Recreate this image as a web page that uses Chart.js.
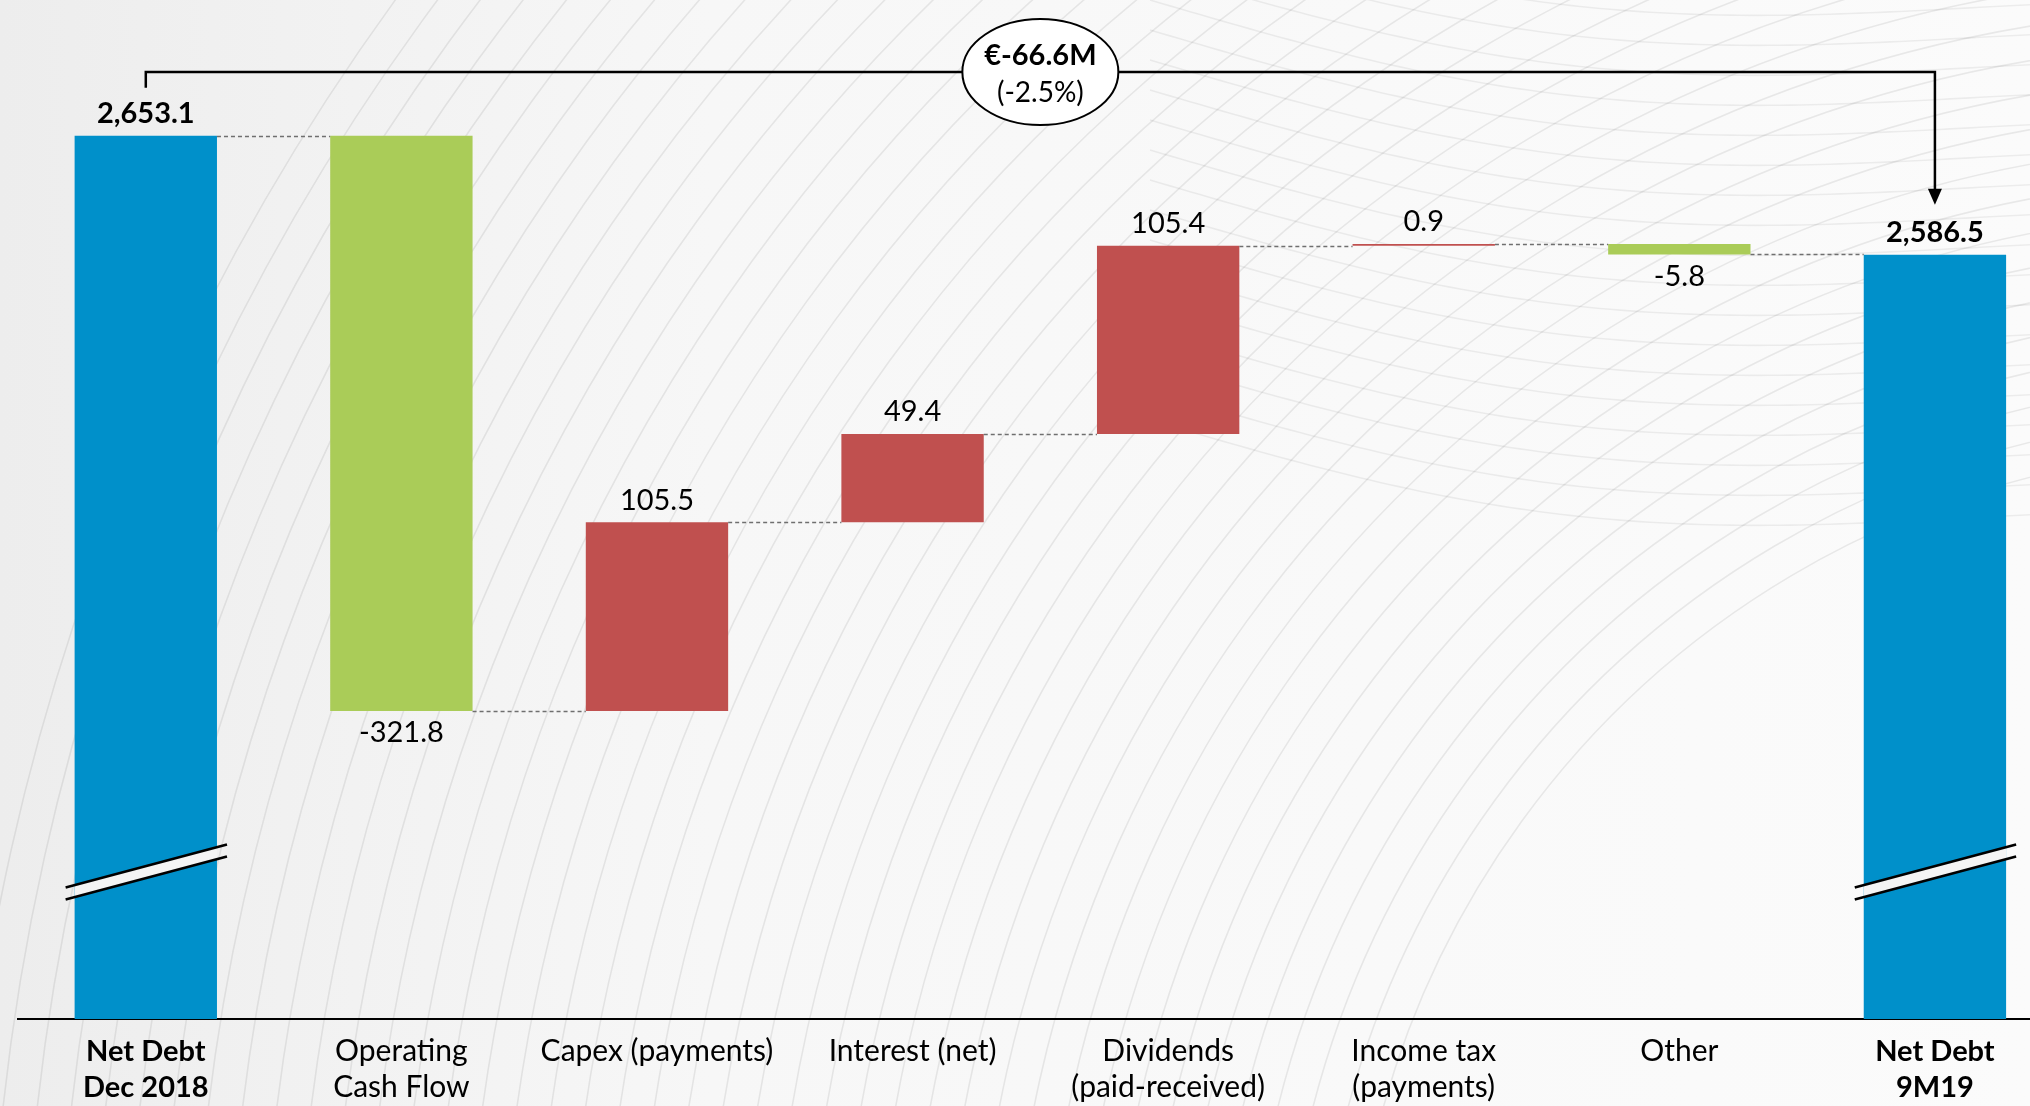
<!DOCTYPE html>
<html><head><meta charset="utf-8">
<script src="https://cdn.jsdelivr.net/npm/chart.js@4.4.1/dist/chart.umd.min.js"></script>
<style>
html,body{margin:0;padding:0;width:2030px;height:1106px;overflow:hidden;background:#f6f6f6;}
#bg{position:absolute;left:0;top:0}
#wrap{position:absolute;left:0;top:0;width:2030px;height:1106px}
</style></head><body>
<canvas id="bg" width="2030" height="1106"></canvas>
<div id="wrap"><canvas id="c"></canvas></div>
<script>
// ---------- data ----------
const categories = [
  ['Net Debt','Dec 2018'],
  ['Operating','Cash Flow'],
  ['Capex (payments)'],
  ['Interest (net)'],
  ['Dividends','(paid-received)'],
  ['Income tax','(payments)'],
  ['Other'],
  ['Net Debt','9M19']
];
const startValue = 2653.1;
const endValue = 2586.5;
const changes = [-321.8, 105.5, 49.4, 105.4, 0.9, -5.8];
const changeLabels = ['-321.8','105.5','49.4','105.4','0.9','-5.8'];
const totalLabels = ['2,653.1','2,586.5'];
const deltaLabel = '€-66.6M';
const deltaPctLabel = '(-2.5%)';
const axisMin = 2159;
const axisMax = 2729;
const breakValue = 2244.6;

// ---------- styles ----------
const FONT = 'Lato, "Open Sans", sans-serif';
const BLUE = '#0090CA', GREEN = '#AACC58', RED = '#C0504F';

// ---------- background ----------
(function(){
  const c = document.getElementById('bg').getContext('2d');
  const g = c.createLinearGradient(0,0,2030,0);
  g.addColorStop(0,'#ededed'); g.addColorStop(0.35,'#f7f7f7'); g.addColorStop(1,'#fbfbfb');
  c.fillStyle = g; c.fillRect(0,0,2030,1106);
  c.strokeStyle = 'rgba(0,0,0,0.075)'; c.lineWidth = 1.6;
  for (let r = 900; r <= 2300; r += 34) {
    c.beginPath(); c.arc(2250, 1350, r, Math.PI*0.95, Math.PI*1.5); c.stroke();
  }
  c.strokeStyle = 'rgba(0,0,0,0.06)';
  for (let y0 = -120; y0 <= 420; y0 += 30) {
    c.beginPath();
    for (let x = 1150; x <= 2030; x += 10) {
      const y = y0 + 45*Math.sin((x-1150)/260) + (x-1150)*0.12;
      if (x === 1150) c.moveTo(x,y); else c.lineTo(x,y);
    }
    c.stroke();
  }
})();

// ---------- derived ----------
const n = categories.length;
const levels = [startValue];
changes.forEach(ch => levels.push(levels[levels.length-1] + ch));
const barData = [{x:0, y:[axisMin, startValue]}];
const barColors = [BLUE];
const barLabels = [totalLabels[0]];
changes.forEach((ch,i) => {
  const a = levels[i], b = levels[i+1];
  barData.push({x:i+1, y:[Math.min(a,b), Math.max(a,b)]});
  barColors.push(ch < 0 ? GREEN : RED);
  barLabels.push(changeLabels[i]);
});
barData.push({x:n-1, y:[axisMin, endValue]});
barColors.push(BLUE);
barLabels.push(totalLabels[1]);
const isTotal = i => i === 0 || i === n-1;
const isNeg = i => !isTotal(i) && changes[i-1] < 0;

const overlay = {
  id:'overlay',
  afterDatasetsDraw(chart){
    const ctx = chart.ctx, ys = chart.scales.y;
    const els = chart.getDatasetMeta(0).data;
    ctx.save();
    // connectors
    ctx.strokeStyle = '#6f6f6f'; ctx.lineWidth = 1.5; ctx.setLineDash([4,3]);
    for (let i = 0; i < n-1; i++) {
      const a = els[i], b = els[i+1];
      const y = Math.round(ys.getPixelForValue(levels[Math.min(i, levels.length-1)])) + 0.5;
      ctx.beginPath(); ctx.moveTo(a.x + a.width/2, y); ctx.lineTo(b.x - b.width/2, y); ctx.stroke();
    }
    ctx.setLineDash([]);
    // value labels
    ctx.textAlign = 'center'; ctx.textBaseline = 'middle'; ctx.fillStyle = '#000';
    els.forEach((el,i) => {
      ctx.font = (isTotal(i) ? 'bold ' : '') + '29px ' + FONT;
      const top = Math.min(el.y, el.base), bot = Math.max(el.y, el.base);
      const y = isNeg(i) ? bot + 22 : top - 22;
      ctx.fillText(barLabels[i], el.x, y);
    });
    // axis break marks
    [0, n-1].forEach(i => {
      const el = els[i];
      const yb = ys.getPixelForValue(breakValue);
      const x1 = el.x - el.width/2 - 9, x2 = el.x + el.width/2 + 10;
      const d = 21.5, gap = 12;
      ctx.fillStyle = '#f4f4f4';
      ctx.beginPath();
      ctx.moveTo(x1 + 9, yb + d - 2.4); ctx.lineTo(x2 - 10, yb - d + 2.7);
      ctx.lineTo(x2 - 10, yb - d + 2.7 + gap); ctx.lineTo(x1 + 9, yb + d - 2.4 + gap);
      ctx.closePath(); ctx.fill();
      ctx.strokeStyle = '#000'; ctx.lineWidth = 2.5;
      for (const off of [0, gap]) {
        ctx.beginPath(); ctx.moveTo(x1, yb + d + off); ctx.lineTo(x2, yb - d + off); ctx.stroke();
      }
    });
    // bracket with arrow
    const xL = els[0].x, xR = els[n-1].x, yB = 72;
    const yLend = ys.getPixelForValue(startValue) - 48;
    const tip = ys.getPixelForValue(endValue) - 50;
    ctx.strokeStyle = '#000'; ctx.lineWidth = 2.5;
    ctx.beginPath(); ctx.moveTo(xL, yLend); ctx.lineTo(xL, yB); ctx.lineTo(xR, yB); ctx.lineTo(xR, tip - 14); ctx.stroke();
    ctx.fillStyle = '#000';
    ctx.beginPath(); ctx.moveTo(xR - 7, tip - 16); ctx.lineTo(xR + 7, tip - 16); ctx.lineTo(xR, tip); ctx.closePath(); ctx.fill();
    // ellipse
    const xm = (xL + xR)/2;
    ctx.beginPath(); ctx.ellipse(xm, yB, 78, 53, 0, 0, Math.PI*2);
    ctx.fillStyle = '#fff'; ctx.fill(); ctx.lineWidth = 2; ctx.stroke();
    ctx.fillStyle = '#000';
    ctx.font = 'bold 29px ' + FONT; ctx.fillText(deltaLabel, xm, yB - 16);
    ctx.font = '28px ' + FONT; ctx.fillText(deltaPctLabel, xm, yB + 21);
    ctx.restore();
  }
};

new Chart(document.getElementById('c'), {
  type:'bar',
  data:{ datasets:[{ data: barData, backgroundColor: barColors, borderWidth:0,
    categoryPercentage:1, barPercentage:0.557 }]},
  options:{
    responsive:true, maintainAspectRatio:false, animation:false,
    layout:{ padding:{ left:18, right:0, top:0, bottom:0 } },
    plugins:{ legend:{display:false}, tooltip:{enabled:false} },
    scales:{
      x:{ type:'linear', min:-0.5, max:7.372, offset:false,
        afterBuildTicks: ax => { ax.ticks = categories.map((_,i) => ({value:i})); },
        afterFit: ax => { ax.height = 87; },
        grid:{ display:true, drawOnChartArea:false, drawTicks:false, color:'transparent' },
        border:{ display:true, color:'#000', width:2 },
        ticks:{ autoSkip:false, maxRotation:0, padding:14, color:'#000',
          callback: v => categories[v],
          font: c => {
            const bold = (c.index === 0 || c.index === n-1);
            const size = bold ? 29 : 30;
            return { family: FONT, size: size, lineHeight: 36.4/size, weight: bold ? 'bold' : 'normal' };
          } }
      },
      y:{ display:false, min:axisMin, max:axisMax, beginAtZero:false }
    }
  },
  plugins:[overlay]
});
</script>
</body></html>
